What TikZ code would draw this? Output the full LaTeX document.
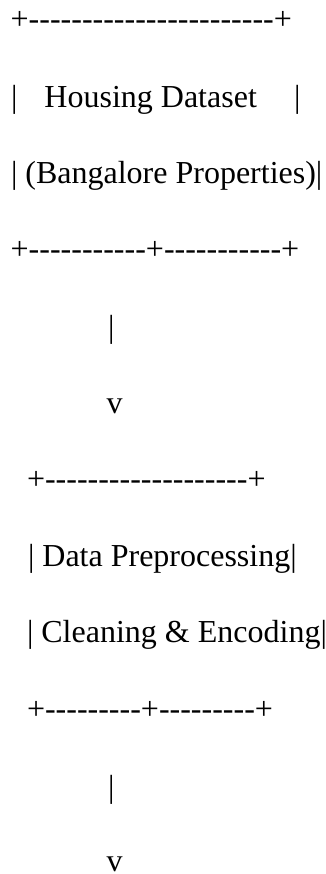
\documentclass[tikz,border=0pt]{standalone}
\usepackage{fontspec}
\newfontfamily\asc{Liberation Serif}[Ligatures=TeXOff]
\begin{document}
\begin{tikzpicture}[x=1bp,y=-1bp,
  asciiline/.style={anchor=base west,inner sep=0pt,outer sep=0pt,
    font=\asc\fontsize{32bp}{32bp}\selectfont,text=black}]
\useasboundingbox[fill=white] (0,0) rectangle (325,874);
\node[asciiline] (l1) at (10.7,29) {+-----------------------+};
\node[asciiline] (l2) at (11.2,107) {|\hspace{26.9bp}Housing Dataset\hspace{37.1bp}|};
\node[asciiline] (l3) at (11,183) {| (Bangalore Properties)|};
\node[asciiline] (l4) at (10.7,259) {+-----------+-----------+};
\node[asciiline] (l5) at (108,337) {|};
\node[asciiline] (l6) at (106.5,413) {v};
\node[asciiline] (l7) at (27,489) {+-------------------+};
\node[asciiline] (l8) at (28,566) {| Data Preprocessing|};
\node[asciiline] (l9) at (27,642) {| Cleaning \& Encoding|};
\node[asciiline] (l10) at (27,719) {+---------+---------+};
\node[asciiline] (l11) at (108,797) {|};
\node[asciiline] (l12) at (106.5,871) {v};
\end{tikzpicture}
\end{document}
